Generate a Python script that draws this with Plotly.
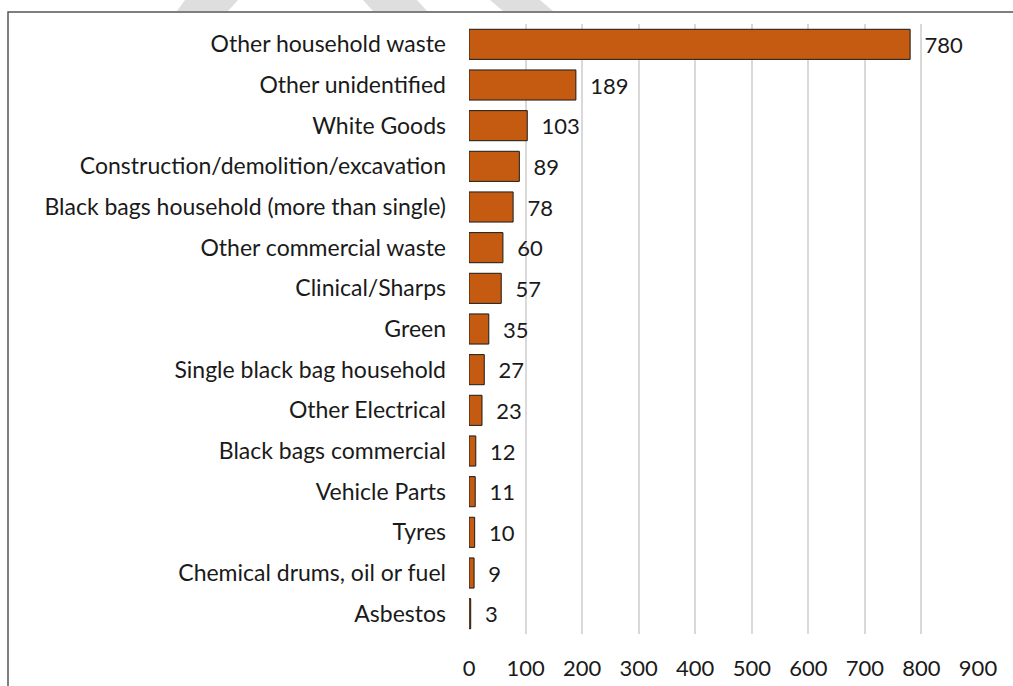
import plotly.graph_objects as go

categories = [
    "Other household waste",
    "Other unidentified",
    "White Goods",
    "Construction/demolition/excavation",
    "Black bags household (more than single)",
    "Other commercial waste",
    "Clinical/Sharps",
    "Green",
    "Single black bag household",
    "Other Electrical",
    "Black bags commercial",
    "Vehicle Parts",
    "Tyres",
    "Chemical drums, oil or fuel",
    "Asbestos",
]
counts = [780, 189, 103, 89, 78, 60, 57, 35, 27, 23, 12, 11, 10, 9, 3]
x_ticks = [0, 100, 200, 300, 400, 500, 600, 700, 800, 900]

W, H = 1013, 686
L, R, T, B = 469, 35, 24, 52
pw, ph = W - L - R, H - T - B


def px(x):
    return (x - L) / pw


def py(y):
    return (H - B - y) / ph


font = "Lato, 'Open Sans', sans-serif"

fig = go.Figure(go.Bar(
    x=counts,
    y=categories,
    orientation="h",
    marker=dict(color="#C55A11", line=dict(color="#1a1a1a", width=1)),
    text=counts,
    texttemplate="\u00a0\u00a0%{x}",
    textposition="outside",
    textfont=dict(size=22, color="#1a1a1a", family=font),
    cliponaxis=False,
))

shapes = [
    # frame around the chart (cut by the screenshot on right and bottom)
    dict(type="rect", xref="paper", yref="paper",
         x0=px(8), x1=px(1030), y0=py(710), y1=py(12),
         line=dict(color="#555555", width=1.5), fillcolor="rgba(0,0,0,0)", layer="above"),
]
# faint watermark bands above the frame
for (a, b, c, d) in [(185, 238, 228, 177), (363, 417, 427, 373), (490, 540, 553, 503)]:
    shapes.append(dict(
        type="path", xref="paper", yref="paper",
        path=f"M {px(a)} {py(0)} L {px(b)} {py(0)} L {px(c)} {py(11)} L {px(d)} {py(11)} Z",
        fillcolor="#dedede", line=dict(width=0), layer="below"))

fig.update_layout(
    width=W, height=H,
    margin=dict(l=L, r=R, t=T, b=B),
    paper_bgcolor="white",
    plot_bgcolor="white",
    bargap=0.26,
    showlegend=False,
    font=dict(family=font, size=22, color="#1a1a1a"),
    shapes=shapes,
    xaxis=dict(
        range=[0, 900],
        tickvals=x_ticks,
        showgrid=True, gridcolor="#d9d9d9", gridwidth=2,
        zeroline=False, showline=False,
        ticklabelstandoff=19,
        tickfont=dict(size=22),
        automargin=False,
    ),
    yaxis=dict(
        autorange="reversed",
        showgrid=False, zeroline=False, showline=False,
        ticklabelstandoff=22,
        tickfont=dict(size=23),
        automargin=False,
    ),
)

fig.write_html("out.html", config={"displayModeBar": False},
               post_script="document.body.style.margin='0';")
